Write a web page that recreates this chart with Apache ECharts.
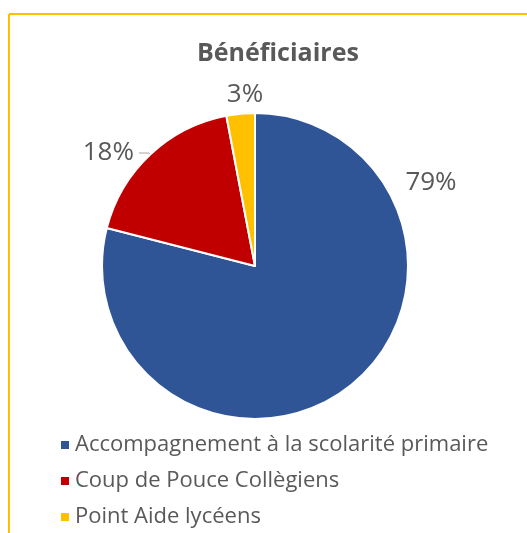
<!DOCTYPE html>
<html>
<head>
<meta charset="utf-8">
<script src="https://cdn.jsdelivr.net/npm/echarts@6/dist/echarts.min.js"></script>
<style>
  html, body { margin: 0; padding: 0; background: #fff; }
  #chart { width: 527px; height: 533px; }
</style>
</head>
<body>
<div id="chart"></div>
<script>
// données
const categories = ['Accompagnement à la scolarité primaire', 'Coup de Pouce Collègiens', 'Point Aide lycéens']
const shares = [79, 18, 3]
const colors = ['#2F5597', '#C00000', '#FFC000']

const textColor = '#595959'
const font = 'Open Sans'

const chart = echarts.init(document.getElementById('chart'))

const pieData = categories.map((name, i) => ({
    name: name,
    value: shares[i],
    itemStyle: {color: colors[i]},
    labelLine: {show: i === 1}
}))

chart.setOption({
    animation: false,
    title: {
        text: 'Bénéficiaires',
        left: 192,
        top: 36,
        textStyle: {fontFamily: font, fontSize: 25, fontWeight: 'bold', color: textColor}
    },
    legend: {
        orient: 'vertical',
        left: 54,
        top: 429,
        height: 120,
        itemWidth: 10,
        itemHeight: 10,
        itemGap: 14,
        icon: 'rect',
        textStyle: {fontFamily: font, fontSize: 22, color: textColor, lineHeight: 22}
    },
    graphic: [
        {type: 'line', shape: {x1: 9, y1: 14, x2: 527, y2: 14}, style: {stroke: '#FFC000', lineWidth: 2}},
        {type: 'line', shape: {x1: 9, y1: 14, x2: 9, y2: 533}, style: {stroke: '#FFC000', lineWidth: 2}}
    ],
    series: [{
        type: 'pie',
        center: [255, 266],
        radius: 153,
        startAngle: 90,
        clockwise: true,
        itemStyle: {borderColor: '#fff', borderWidth: 2},
        label: {
            show: true,
            position: 'outside',
            formatter: p => Math.round(p.percent) + '%',
            fontFamily: font,
            fontSize: 26,
            color: textColor
        },
        labelLine: {show: true, length: 2, length2: 10, lineStyle: {color: '#A6A6A6', width: 1}},
        // Excel place 79% en haut à droite et 3% au-dessus de la part
        labelLayout: function (params) {
            if (params.dataIndex === 0) {
                return {x: 431, y: 183, align: 'center', verticalAlign: 'middle'}
            }
            if (params.dataIndex === 2) {
                return {x: 245, y: 95, align: 'center', verticalAlign: 'middle'}
            }
            return {}
        },
        data: pieData
    }]
})
</script>
</body>
</html>
